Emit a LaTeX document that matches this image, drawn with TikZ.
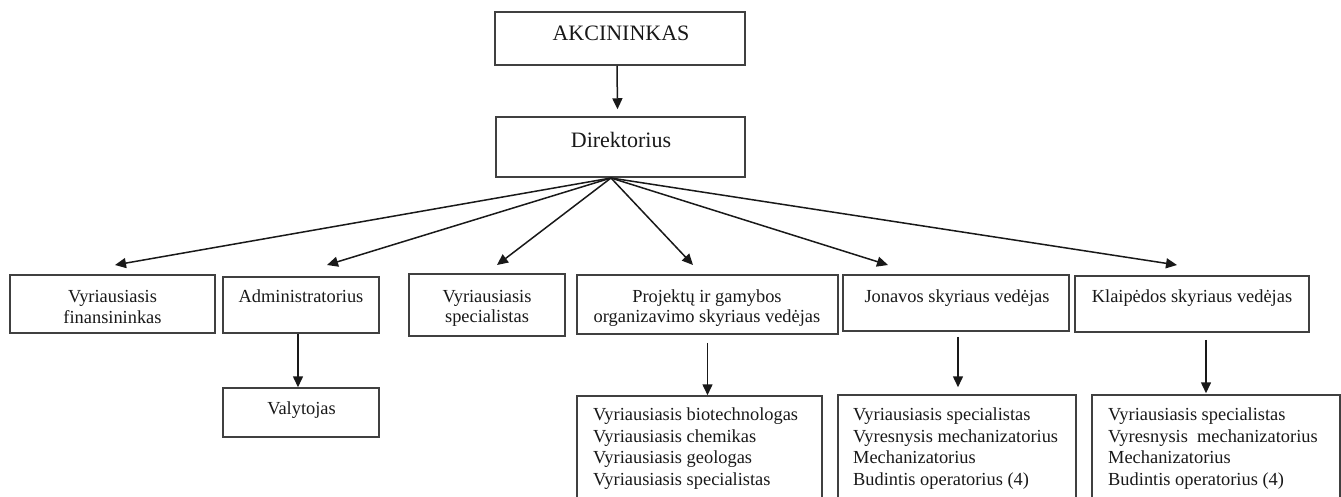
\documentclass[tikz,border=0pt]{standalone}
\usepackage{fontspec}
\setmainfont{Liberation Serif}
\usetikzlibrary{arrows.meta}
\begin{document}
\begin{tikzpicture}[x=1pt,y=-1pt,
 box/.style={draw=black!75, line width=1.5pt, inner sep=0pt},
 lbl/.style={inner sep=0pt, align=center, font=\fontsize{18.4}{20.5}\selectfont, text=black!90, anchor=north},
 big/.style={inner sep=0pt, font=\fontsize{22}{26}\selectfont, text=black!90, anchor=north},
 lst/.style={inner sep=0pt, align=left, font=\fontsize{18.4}{21.7}\selectfont, anchor=north west, text=black!90},
 arr/.style={draw=black!90, line width=1.5pt, -{Triangle[length=11pt,width=10pt]}}]
\useasboundingbox (0,0) rectangle (1341,496);
\clip (0,0) rectangle (1341,496);
\fill[white] (0,0) rectangle (1341,496);

% boxes
\node[box, minimum width=250pt, minimum height=53pt] (akc) at (620,38.5) {};
\node[box, minimum width=249pt, minimum height=60pt] (dir) at (620.5,147) {};
\node[box, minimum width=205pt, minimum height=58pt] (fin) at (112.5,304) {};
\node[box, minimum width=156pt, minimum height=56pt] (adm) at (301,305) {};
\node[box, minimum width=156pt, minimum height=49pt] (val) at (301,412.5) {};
\node[box, minimum width=156pt, minimum height=62pt] (spec) at (487,305) {};
\node[box, minimum width=261pt, minimum height=59pt] (proj) at (707.5,304.5) {};
\node[box, minimum width=226pt, minimum height=56pt] (jon) at (956,303) {};
\node[box, minimum width=234pt, minimum height=56pt] (kla) at (1192,304) {};
\node[box, minimum width=245pt, minimum height=124pt] (projL) at (699.5,458) {};
\node[box, minimum width=238pt, minimum height=125pt] (jonL) at (957,457.5) {};
\node[box, minimum width=248pt, minimum height=125pt] (klaL) at (1216,457.5) {};

% texts
\node[big] (akcT) at (621,25.5) {AKCININKAS};
\node[big] (dirT) at (621,132) {Direktorius};
\node[lbl] (finT) at (112.5,290.5) {Vyriausiasis\\finansininkas};
\node[lbl] (admT) at (301,290) {Administratorius};
\node[lbl] (valT) at (301.5,402) {Valytojas};
\node[lbl] (specT) at (487,290) {Vyriausiasis\\specialistas};
\node[lbl] (projT) at (707,289.5) {Projektų ir gamybos\\organizavimo skyriaus vedėjas};
\node[lbl] (jonT) at (957,290) {Jonavos skyriaus vedėjas};
\node[lbl] (klaT) at (1192,290) {Klaipėdos skyriaus vedėjas};
\node[lst] (projLT) at (593,407.5) {Vyriausiasis biotechnologas\\Vyriausiasis chemikas\\Vyriausiasis geologas\\Vyriausiasis specialistas};
\node[lst] (jonLT) at (853,407.5) {Vyriausiasis specialistas\\Vyresnysis mechanizatorius\\Mechanizatorius\\Budintis operatorius (4)};
\node[lst] (klaLT) at (1108,407.5) {Vyriausiasis specialistas\\Vyresnysis~ mechanizatorius\\Mechanizatorius\\Budintis operatorius (4)};

% arrow ends
\coordinate (dirO) at (611,178);
\coordinate (tFin) at (115,265);
\coordinate (tAdm) at (327,265);
\coordinate (tSpec) at (497,265);
\coordinate (tProj) at (693,265);
\coordinate (tJon) at (888,265);
\coordinate (tKla) at (1177,265);

% connectors
\draw[arr] ([xshift=-3pt]akc.south) -- ([xshift=-3pt,yshift=7pt]dir.north);
\draw[arr] (dirO) -- (tFin);
\draw[arr] (dirO) -- (tAdm);
\draw[arr] (dirO) -- (tSpec);
\draw[arr] (dirO) -- (tProj);
\draw[arr] (dirO) -- (tJon);
\draw[arr] (dirO) -- (tKla);
\draw[arr] ([xshift=-3pt]adm.south) -- ([xshift=-3pt]val.north);
\draw[arr] ([yshift=-8pt]proj.south) -- (proj.south |- projL.north);
\draw[arr] ([xshift=2pt,yshift=-5pt]jon.south) -- ([xshift=2pt,yshift=7pt]jon.south |- jonL.north);
\draw[arr] ([xshift=14pt,yshift=-7pt]kla.south) -- ([xshift=14pt,yshift=1pt]kla.south |- klaL.north);
\end{tikzpicture}
\end{document}
